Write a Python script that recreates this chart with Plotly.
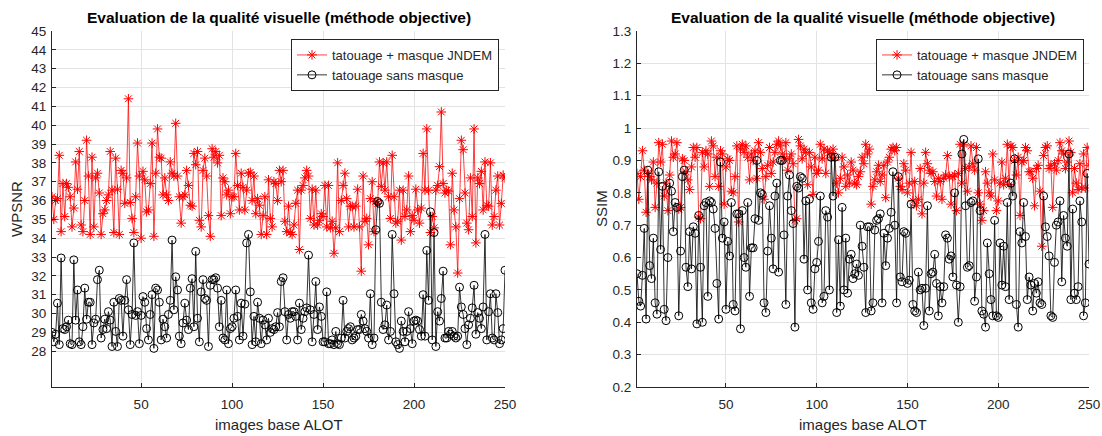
import plotly.graph_objects as go

# ---------------- data ----------------
wpsnr_jndem = [
    36.2, 35.0, 36.0, 36.1, 38.4, 34.35, 36.9, 35.15, 36.9, 36.7,
    36.2, 34.6, 35.6, 38.05, 36.6, 38.6, 34.7, 34.35, 36.0, 39.2,
    37.3, 34.2, 38.3, 34.6, 37.2, 37.45, 36.4, 34.2, 35.3, 35.5,
    36.0, 36.3, 38.6, 36.55, 34.3, 38.25, 36.6, 34.2, 37.6, 37.45,
    35.85, 37.2, 41.4, 35.9, 35.05, 34.3, 36.2, 39.05, 37.3, 34.0,
    37.55, 37.1, 35.4, 35.5, 36.9, 39.05, 34.1, 37.45, 39.8, 38.3,
    38.25, 36.3, 37.2,
    36.3, 36.0, 38.05, 37.45, 37.3, 40.1, 37.3, 36.2, 34.8, 36.2,
    36.3, 37.6, 36.8, 35.75, 35.7, 38.5, 37.9, 38.6, 34.95, 34.6,
    37.6, 38.25, 37.3, 35.2, 34.1, 38.75, 38.3, 38.6, 38.0, 38.4,
    35.2, 37.2, 37.0, 36.3, 36.55, 35.3, 36.2, 36.2,
    38.5, 36.8, 35.5, 37.45, 36.7, 35.5, 36.55, 37.45, 37.5,
    36.0, 37.3, 35.3, 36.1, 35.75, 34.2, 35.2, 36.2, 34.2,
    37.1, 35.05, 34.6, 37.0, 36.9, 36.0, 37.6, 37.0,
    37.6, 34.9, 34.35, 35.7, 34.3, 34.2, 34.7, 35.85, 36.55,
    33.4, 36.55, 36.8, 37.2, 37.6, 37.3, 35.05, 36.6, 34.7,
    36.55, 34.7, 34.95, 35.3, 35.15, 36.8, 34.6, 36.8, 34.55,
    34.9, 33.2, 34.55, 38.0, 34.35, 36.0, 36.8, 37.45, 36.1,
    34.6, 35.7, 35.7, 34.6, 35.7, 36.6, 34.6, 32.25, 37.3, 34.9,
    35.05, 33.65, 36.1, 37.0, 34.35, 35.95, 35.85, 38.05, 36.75,
    38.0, 36.55, 38.05, 36.2, 35.05, 38.4, 36.2, 34.8, 34.9, 36.55,
    33.9, 36.55, 35.15, 35.5, 37.3, 34.35, 35.2, 34.95, 36.6,
    35.5, 34.8, 35.6, 38.5, 36.55, 39.8, 36.55, 34.3, 35.15,
    34.55, 36.55, 36.8, 37.8, 40.7, 36.9, 36.4, 36.55, 36.5,
    33.65, 37.45, 35.5, 34.6, 32.15, 36.1, 39.2, 38.7, 36.4, 34.8,
    34.45, 37.2, 35.15, 39.8, 33.75, 37.2, 36.9, 37.55, 35.5,
    38.05, 35.75, 35.7, 38.0, 34.7, 35.15, 36.55, 37.3, 34.7,
    35.85, 37.35, 37.2,
]

wpsnr_sans = [
    29.0, 28.5, 28.9, 30.55, 28.35, 32.95, 29.2, 29.15, 29.3, 29.65,
    28.4, 28.35, 32.85, 29.65, 31.25, 28.5, 28.35, 29.3, 31.35, 29.7,
    30.6, 30.6, 28.35, 29.5, 29.7, 31.8, 32.3, 28.7, 29.15, 29.7,
    29.2, 30.1, 29.65, 28.25, 30.6, 29.05, 28.25, 30.8, 30.7, 28.8,
    30.7, 31.8, 30.2, 28.35, 29.95, 33.75, 29.9, 30.1, 28.4, 29.9,
    30.9, 30.6, 29.2, 28.6, 29.95, 31.0, 28.15, 31.35, 31.25, 30.6, 28.6,
    29.7, 29.3,
    28.7, 29.95, 30.7, 33.9, 30.2, 31.95, 31.25, 28.8, 28.4,
    29.5, 30.55, 29.65, 29.15, 31.35, 31.85, 29.3, 33.3, 29.75, 28.5,
    31.15, 31.8, 30.8, 30.7, 28.25, 31.5, 31.8, 31.8, 31.9, 31.35,
    29.3, 30.7, 28.7, 28.6, 31.25, 28.4, 29.2, 29.3, 29.75,
    31.25, 29.85, 28.6, 30.55, 28.8, 30.5, 33.75, 34.2, 31.15, 28.35,
    29.85, 28.5, 30.6, 29.75, 28.4, 29.65, 29.4, 28.6, 29.75,
    29.0, 29.2, 29.15, 29.3, 30.05, 29.3, 31.7,
    31.9, 30.1, 28.6, 29.95, 29.75, 30.1, 30.1, 29.85, 28.6,
    30.55, 29.15, 29.75, 30.1, 30.3, 33.1, 30.2, 28.5, 29.95, 31.7,
    29.15, 30.35, 29.85, 28.5, 28.5, 31.15, 28.4, 28.4, 28.6,
    28.35, 29.05, 28.4, 28.35, 28.7, 30.7, 28.7, 29.05, 29.2,
    29.3, 28.6, 28.7, 28.8, 29.15, 29.15, 29.95, 29.6, 29.2,
    29.05, 28.7, 31.05, 28.35, 28.7, 34.45, 35.95, 35.85, 30.6,
    29.15, 29.4, 30.45, 28.6, 29.05, 34.2, 31.05, 28.5, 28.35, 28.15,
    29.6, 29.05, 28.5, 29.05, 30.1, 29.2, 28.4, 29.6, 29.65,
    29.6, 29.15, 28.8, 31.0, 28.8, 33.35, 30.7, 35.4, 28.6, 34.3,
    28.25, 30.1, 29.6, 30.8, 32.25, 28.7, 28.7, 29.05, 28.9,
    29.05, 28.8, 28.7, 28.8, 31.4, 30.35, 29.95, 29.2,
    28.35, 29.4, 29.75, 30.3, 31.5, 28.9, 30.05, 29.75, 29.2, 30.35,
    34.2, 28.6, 30.1, 31.05, 28.7, 28.6, 31.05, 30.05, 28.4,
    28.6, 29.2, 32.3,
]

ssim_jndem = [
    0.86, 0.78, 0.85, 0.93, 0.87, 0.74, 0.86, 0.85, 0.84, 0.895,
    0.755, 0.83, 0.955, 0.895, 0.95, 0.79, 0.83, 0.745, 0.855, 0.96,
    0.91, 0.92, 0.955, 0.75, 0.755, 0.905, 0.9, 0.865, 0.84,
    0.81, 0.88, 0.94, 0.91, 0.94, 0.725, 0.72, 0.925, 0.88, 0.93,
    0.92, 0.82, 0.96, 0.945, 0.85, 0.91, 0.82, 0.93, 0.92,
    0.765, 0.88, 0.905, 0.9, 0.805, 0.8, 0.85, 0.945, 0.71,
    0.935, 0.95, 0.925, 0.945, 0.91, 0.84, 0.92,
    0.9, 0.93, 0.845, 0.955, 0.925, 0.875, 0.78, 0.85, 0.885, 0.94,
    0.86, 0.895, 0.925, 0.95, 0.96, 0.945, 0.92, 0.905, 0.955,
    0.87, 0.905, 0.92, 0.89, 0.715, 0.72, 0.965, 0.945, 0.905,
    0.935, 0.925, 0.825, 0.925, 0.88, 0.795, 0.91, 0.86, 0.87, 0.95,
    0.905, 0.935, 0.86, 0.93, 0.925, 0.91, 0.935, 0.91, 0.83,
    0.8, 0.845, 0.91, 0.88, 0.82, 0.855, 0.83, 0.895, 0.87,
    0.83, 0.825, 0.85, 0.865, 0.91, 0.89, 0.95, 0.92, 0.935,
    0.765, 0.82, 0.84, 0.865, 0.885, 0.835, 0.855, 0.885, 0.785,
    0.895, 0.91, 0.935, 0.94, 0.93, 0.94, 0.845, 0.82, 0.81,
    0.89, 0.87, 0.8, 0.83, 0.925, 0.775, 0.835, 0.76, 0.78,
    0.875, 0.735, 0.83, 0.925, 0.89, 0.87, 0.86, 0.865, 0.835,
    0.79, 0.845, 0.835, 0.78, 0.845, 0.855, 0.915, 0.85, 0.765,
    0.85, 0.855, 0.745, 0.86, 0.95, 0.83, 0.95, 0.875, 0.805, 0.88,
    0.945, 0.89, 0.87, 0.94, 0.8, 0.765, 0.715, 0.745, 0.865, 0.83,
    0.8, 0.79, 0.92, 0.84, 0.745, 0.775, 0.83, 0.895, 0.825, 0.845,
    0.95, 0.825, 0.945, 0.94, 0.9, 0.855, 0.91, 0.73, 0.895,
    0.9, 0.94, 0.93, 0.865, 0.865, 0.845, 0.76, 0.875, 0.885,
    0.805, 0.635, 0.915, 0.94, 0.945, 0.875, 0.885, 0.755, 0.89,
    0.87, 0.9, 0.955, 0.93, 0.92, 0.875, 0.895, 0.96, 0.925,
    0.8, 0.875, 0.83, 0.81, 0.89, 0.815, 0.92, 0.815, 0.94, 0.885,
]

ssim_sans = [
    0.55, 0.465, 0.45, 0.545, 0.69, 0.41, 0.87, 0.575, 0.535,
    0.66, 0.46, 0.425, 0.865, 0.625, 0.82, 0.44, 0.405, 0.6, 0.83,
    0.805, 0.68, 0.77, 0.755, 0.42, 0.62, 0.85, 0.87, 0.57,
    0.51, 0.68, 0.565, 0.695, 0.675, 0.395, 0.73, 0.57, 0.4, 0.76,
    0.77, 0.48, 0.775, 0.77, 0.75, 0.69, 0.52, 0.41, 0.895, 0.66,
    0.71, 0.44, 0.65, 0.605, 0.77, 0.455, 0.435, 0.735, 0.735,
    0.38, 0.745, 0.6, 0.57, 0.77, 0.48, 0.63,
    0.63, 0.72, 0.9, 0.715, 0.8, 0.795, 0.46, 0.43, 0.62,
    0.76, 0.66, 0.565, 0.79, 0.83, 0.555, 0.9, 0.9, 0.67, 0.455,
    0.79, 0.855, 0.745, 0.705, 0.385, 0.82, 0.815, 0.85, 0.845,
    0.595, 0.775, 0.5, 0.78, 0.46, 0.44, 0.565, 0.585, 0.65,
    0.79, 0.46, 0.48, 0.745, 0.725, 0.5, 0.91, 0.79, 0.91, 0.43,
    0.655, 0.45, 0.755, 0.5, 0.66, 0.49, 0.595, 0.61,
    0.535, 0.55, 0.58, 0.545, 0.7, 0.635, 0.57, 0.43, 0.695, 0.695,
    0.435, 0.46, 0.685, 0.715, 0.72, 0.735, 0.46, 0.675, 0.575,
    0.66, 0.69, 0.74, 0.865, 0.7, 0.46, 0.85, 0.54, 0.525,
    0.68, 0.675, 0.52, 0.53, 0.765, 0.455, 0.435, 0.43, 0.555, 0.5,
    0.505, 0.39, 0.505, 0.76, 0.435, 0.55, 0.555, 0.61, 0.52,
    0.42, 0.51, 0.46, 0.51, 0.67, 0.66, 0.595, 0.605,
    0.54, 0.8, 0.515, 0.4, 0.51, 0.92, 0.965, 0.76, 0.57, 0.575,
    0.77, 0.775, 0.465, 0.54, 0.905, 0.745, 0.435, 0.425, 0.385, 0.645,
    0.55, 0.47, 0.42, 0.715, 0.42, 0.415, 0.645, 0.515, 0.635,
    0.51, 0.77, 0.47, 0.83, 0.79, 0.905, 0.455, 0.385, 0.68,
    0.645, 0.77, 0.665, 0.47, 0.54, 0.515, 0.435, 0.52, 0.49, 0.525,
    0.46, 0.455, 0.79, 0.695, 0.665, 0.605, 0.42, 0.415, 0.585,
    0.7, 0.71, 0.775, 0.525, 0.73, 0.66, 0.635, 0.92, 0.47,
    0.75, 0.49, 0.47, 0.51, 0.775, 0.71, 0.42, 0.46, 0.86, 0.58,
]

images = list(range(1, len(wpsnr_jndem) + 1))

title_text = "Evaluation de la qualité visuelle (méthode objective)"
name_jndem = "tatouage + masque JNDEM"
name_sans = "tatouage sans masque"
x_label = "images base ALOT"
y_label_left = "WPSNR"
y_label_right = "SSIM"
x_ticks = [50, 100, 150, 200, 250]
wpsnr_ticks = list(range(28, 46))
ssim_ticks = [0.2, 0.3, 0.4, 0.5, 0.6, 0.7, 0.8, 0.9, 1.0, 1.1, 1.2, 1.3]
ssim_ticktext = ["0.2", "0.3", "0.4", "0.5", "0.6", "0.7", "0.8", "0.9",
                 "1", "1.1", "1.2", "1.3"]

# ---------------- figure ----------------
W, H = 1102, 436
FONT = "Liberation Sans, Arial, Helvetica, sans-serif"
TICKC = "#262626"
GRID = "#e3e3e3"


def fx(px):
    return px / W


def fy(py):
    return 1 - py / H


fig = go.Figure()

red_line = dict(color="rgba(255,0,0,0.75)", width=1)
red_marker = dict(symbol="asterisk-open", size=8, color="red",
                  line=dict(color="red", width=1))
blk_line = dict(color="rgba(0,0,0,0.8)", width=1)
blk_marker = dict(symbol="circle-open", size=8, color="black",
                  line=dict(color="#222222", width=1))

fig.add_trace(go.Scatter(x=images, y=wpsnr_jndem, mode="lines+markers",
                         name=name_jndem, line=red_line, marker=red_marker,
                         xaxis="x", yaxis="y", legend="legend"))
fig.add_trace(go.Scatter(x=images, y=wpsnr_sans, mode="lines+markers",
                         name=name_sans, line=blk_line, marker=blk_marker,
                         xaxis="x", yaxis="y", legend="legend"))
fig.add_trace(go.Scatter(x=images, y=ssim_jndem, mode="lines+markers",
                         name=name_jndem, line=red_line, marker=red_marker,
                         xaxis="x2", yaxis="y2", legend="legend2"))
fig.add_trace(go.Scatter(x=images, y=ssim_sans, mode="lines+markers",
                         name=name_sans, line=blk_line, marker=blk_marker,
                         xaxis="x2", yaxis="y2", legend="legend2"))

L1, R1 = 52, 505
L2, R2 = 637, 1089
TOP, BOT = 31, 387
ydom = [fy(BOT), fy(TOP)]

common_x = dict(range=[1, 250], tickvals=x_ticks, showgrid=True, gridcolor=GRID,
                gridwidth=1, zeroline=False, showline=True, linecolor=TICKC,
                linewidth=1, ticks="inside", ticklen=4, tickcolor=TICKC,
                tickfont=dict(family=FONT, size=13.5, color=TICKC),
                ticklabelstandoff=5, automargin=False, mirror=False)
common_y = dict(showgrid=True, gridcolor=GRID, gridwidth=1, zeroline=False,
                showline=True, linecolor=TICKC, linewidth=1, ticks="inside",
                ticklen=4, tickcolor=TICKC, ticklabelstandoff=2,
                tickfont=dict(family=FONT, size=13.5, color=TICKC),
                automargin=False, mirror=False)

leg_common = dict(xanchor="left", yanchor="top", bgcolor="white",
                  bordercolor="#262626", borderwidth=1,
                  font=dict(family=FONT, size=13, color="#262626"),
                  tracegroupgap=0, itemwidth=30)


def ann(text, xpx, ypx, size, bold=False, angle=0, color=TICKC):
    return dict(text=("<b>%s</b>" % text) if bold else text,
                x=fx(xpx), y=fy(ypx), xref="paper", yref="paper",
                showarrow=False, xanchor="center", yanchor="middle",
                textangle=angle, font=dict(family=FONT, size=size, color=color))


fig.update_layout(
    width=W, height=H,
    margin=dict(l=0, r=0, t=0, b=0, autoexpand=False),
    paper_bgcolor="white", plot_bgcolor="white",
    xaxis=dict(domain=[fx(L1), fx(R1)], anchor="y", **common_x),
    yaxis=dict(domain=ydom, anchor="x", range=[26.1, 45], tickvals=wpsnr_ticks,
               **common_y),
    xaxis2=dict(domain=[fx(L2), fx(R2)], anchor="y2", **common_x),
    yaxis2=dict(domain=ydom, anchor="x2", range=[0.2, 1.3], tickvals=ssim_ticks,
                ticktext=ssim_ticktext, **common_y),
    legend=dict(x=fx(291), y=fy(39), **leg_common),
    legend2=dict(x=fx(876), y=fy(39), **leg_common),
    showlegend=True,
    annotations=[
        ann(title_text, (L1 + R1) / 2, 17, 15.5, bold=True, color="black"),
        ann(title_text, (L2 + R2) / 2, 17, 15.5, bold=True, color="black"),
        ann(x_label, (L1 + R1) / 2, 424, 15),
        ann(x_label, (L2 + R2) / 2, 424, 15),
        ann(y_label_left, 17, (TOP + BOT) / 2, 15, angle=-90),
        ann(y_label_right, 602, (TOP + BOT) / 2, 15, angle=-90),
    ],
)

# remove the default page margin so the figure fills the 1102x436 window
fig.write_html("out.html",
               config={"displayModeBar": False},
               post_script="document.body.style.margin='0';"
                           "document.body.style.overflow='hidden';")
